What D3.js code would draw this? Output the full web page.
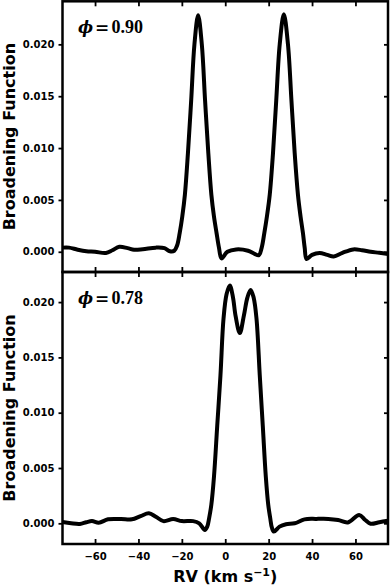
<!DOCTYPE html>
<html>
<head>
<meta charset="utf-8">
<script src="https://cdn.jsdelivr.net/npm/d3@7"></script>
<style>
  body { margin: 0; background: #fff; }
  svg { display: block; }
</style>
</head>
<body>
<svg id="chart" width="390" height="586"></svg>
<script>
// top panel, phase 0.90 (RV in km/s, broadening function)
let rvTop = [-75, -72, -68, -64, -60, -55, -52, -48.8, -45, -42, -38, -32, -28, -25.5, -23.5, -22.2,
  -21.0, -19.8, -18.6, -17.2, -15.7, -14.2, -12.5, -10.8, -9.3, -7.8, -6.4, -5.2, -4.0, -2.9, -1.7, 1.0, 5.0, 10.5, 13.5,
  15.5, 16.8, 18.0, 19.2, 20.5, 22.0, 23.5, 25.1, 27.0, 28.9, 30.5, 32.0, 33.5, 34.7, 35.8, 36.6, 37.5, 40, 43.5, 47, 50, 54,
  59, 63, 67, 71, 75];
let bfTop = [0.0004, 0.0004, 0.0002, 0.00005, 0.0, -0.00012, 0.00015, 0.00048, 0.00035, 0.0002, 0.00025, 0.0004, 0.00035, 0.00005, 0.0001, 0.0006,
  0.0018, 0.0034, 0.0055, 0.0095, 0.0146, 0.02, 0.0228, 0.02, 0.0146, 0.0095, 0.0055, 0.0034, 0.0018, 0.0004, -0.00064, 0.0, 0.00023, 0.0001, -0.0002,
  -0.00032, 0.0004, 0.0018, 0.0034, 0.0055, 0.0095, 0.0146, 0.02, 0.0229, 0.02, 0.0146, 0.0095, 0.0055, 0.0034, 0.0018, 0.0004, -0.0007, -0.0003, -0.00012, -0.0003, -0.00045, -0.0001,
  0.00023, 0.00015, 0.0, -0.0001, -0.00022];

// bottom panel, phase 0.78
let rvBot = [-75, -71, -67, -64, -61.4, -58.3, -54, -48, -43, -39, -35.2, -32, -28.5, -24, -20, -14.8, -12,
  -9.4, -8.3, -7.4, -6.4, -5.2, -3.7, -2.2, -0.8, 0.6, 2.1, 3.5, 4.8, 6.7, 8.6, 10.2, 11.7, 13.1, 14.4, 15.9, 17.3, 18.7,
  19.8, 20.7, 21.5, 22.4, 25, 28, 32, 36.5, 42, 47.5, 52, 56.5, 61.7, 64.5, 67, 71, 75];
let bfBot = [0.00012, 0.0, -0.00006, 0.0001, 0.0002, 0.00005, 0.00036, 0.00038, 0.00036, 0.00065, 0.0009, 0.0006, 0.0002, 0.00039, 0.0002, 0.0002, 0.0,
  -0.0006, -0.0003, 0.0005, 0.0017, 0.0042, 0.0088, 0.0134, 0.0185, 0.0207, 0.0215, 0.0205, 0.0187, 0.0172, 0.0188, 0.0204, 0.0211, 0.0204, 0.0185, 0.0134, 0.0088, 0.0042,
  0.0017, 0.0005, -0.0004, -0.00075, -0.0003, -0.00008, 0.0, 0.00036, 0.0004, 0.0004, 0.0003, 0.00008, 0.00075, 0.0003, -0.00004, 0.0001, 0.00024];

let xTicks = [-60, -40, -20, 0, 20, 40, 60];
let yTicks = [0, 0.005, 0.01, 0.015, 0.02];
let phases = ["0.90", "0.78"];

let svg = d3.select("#chart");
let left = 62.5, right = 388;
let x = d3.scaleLinear().domain([-75, 75]).range([left, right]);

let panels = [
  { rv: rvTop, bf: bfTop, phase: phases[0], top: 1.3, bottom: 272, ydom: [-0.00195, 0.02415], last: false },
  { rv: rvBot, bf: bfBot, phase: phases[1], top: 272, bottom: 544, ydom: [-0.00187, 0.02272], last: true }
];

for (let p of panels) {
  let y = d3.scaleLinear().domain(p.ydom).range([p.bottom, p.top]);
  let g = svg.append("g");

  // curve
  let pts = p.rv.map((r, i) => [r, p.bf[i]]);
  let line = d3.line()
    .x(d => x(d[0]))
    .y(d => y(d[1]))
    .curve(d3.curveCatmullRom.alpha(0.5));
  g.append("path")
    .datum(pts)
    .attr("d", line)
    .attr("fill", "none")
    .attr("stroke", "#000")
    .attr("stroke-width", 4)
    .attr("stroke-linejoin", "round");

  // axes (ticks only, frame drawn below)
  let yl = g.append("g").attr("transform", `translate(${left},0)`)
    .call(d3.axisLeft(y).tickValues(yTicks).tickSizeInner(4).tickSizeOuter(0).tickPadding(4).tickFormat(d3.format(".3f")));
  let yr = g.append("g").attr("transform", `translate(${right},0)`)
    .call(d3.axisRight(y).tickValues(yTicks).tickSizeInner(-4).tickSizeOuter(0).tickFormat(""));
  let xt = g.append("g").attr("transform", `translate(0,${p.top})`)
    .call(d3.axisTop(x).tickValues(xTicks).tickSizeInner(-5).tickSizeOuter(0).tickFormat(""));
  let xb = g.append("g").attr("transform", `translate(0,${p.bottom})`)
    .call(d3.axisBottom(x).tickValues(xTicks).tickSizeInner(-5).tickSizeOuter(0).tickPadding(9)
      .tickFormat(p.last ? d3.format("d") : ""));

  for (let a of [yl, yr, xt, xb]) {
    a.select(".domain").remove();
    a.selectAll(".tick line").attr("stroke", "#000").attr("stroke-width", 1.8);
    a.selectAll("text")
      .attr("fill", "#000")
      .attr("font-family", "DejaVu Sans")
      .attr("font-weight", "bold")
      .attr("font-size", "10px");
  }

  // frame
  g.append("rect")
    .attr("x", left).attr("y", p.top)
    .attr("width", right - left).attr("height", p.bottom - p.top)
    .attr("fill", "none")
    .attr("stroke", "#000")
    .attr("stroke-width", 2.5);

  // y label
  g.append("text")
    .attr("transform", `translate(14.5,${(p.top + p.bottom) / 2}) rotate(-90)`)
    .attr("text-anchor", "middle")
    .attr("font-family", "DejaVu Sans")
    .attr("font-weight", "bold")
    .attr("font-size", "16px")
    .text("Broadening Function");

  // phase label
  let ph = g.append("text")
    .attr("y", p.top + 32)
    .attr("font-family", "Liberation Serif")
    .attr("font-size", "18px")
    .attr("font-weight", "bold");
  ph.append("tspan").attr("x", 78).attr("font-family", "DejaVu Serif").attr("font-style", "italic").attr("font-size", "16px").text("\u03D5");
  ph.append("tspan").attr("x", 95).attr("font-family", "DejaVu Serif").attr("font-size", "17px").text("=");
  ph.append("tspan").attr("x", 111.5).text(p.phase);
}

// x label
let xl = svg.append("text")
  .attr("x", (left + right) / 2)
  .attr("y", 581.5)
  .attr("text-anchor", "middle")
  .attr("font-family", "DejaVu Sans")
  .attr("font-weight", "bold")
  .attr("font-size", "16px");
xl.append("tspan").text("RV (km s");
xl.append("tspan").attr("dy", -6).attr("font-size", "11px").text("\u22121");
xl.append("tspan").attr("dy", 6).text(")");
</script>
</body>
</html>
